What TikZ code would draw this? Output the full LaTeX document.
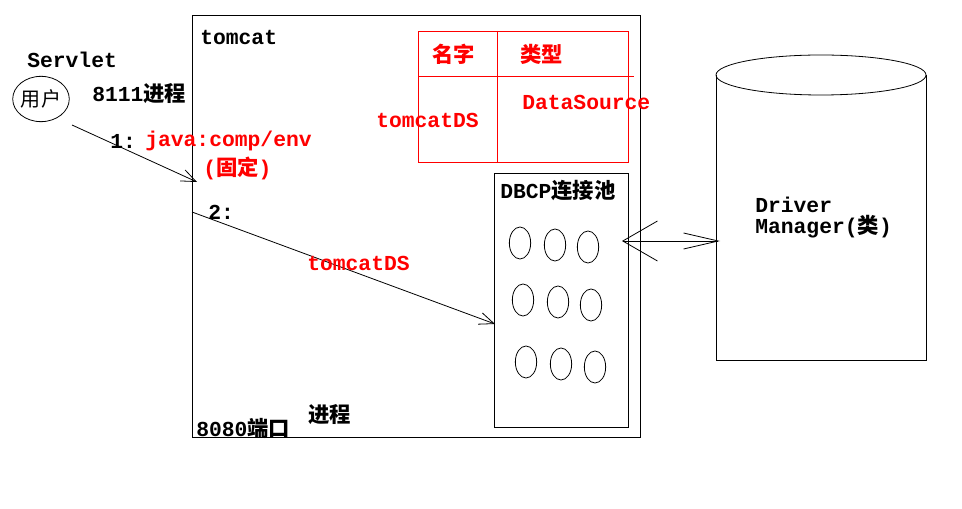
\documentclass[tikz,border=0pt]{standalone}
\usepackage{fontspec}
\setmainfont{Liberation Mono}
\newfontfamily\cjk{Noto Sans CJK SC}
\usetikzlibrary{arrows.meta,shapes.geometric}
\begin{document}
\begin{tikzpicture}[x=0.75pt,y=-0.75pt,
  txt/.style={anchor=west,inner sep=0pt,font=\fontsize{16}{16}\selectfont\bfseries},
  rtxt/.style={txt,text=red},
  ln/.style={line width=0.6pt},
  arr/.style={ln,-{Straight Barb[length=11pt,width=9pt,line width=0.6pt]}},
  pool/.style={draw,ln,ellipse,minimum width=16pt,minimum height=24pt,inner sep=0pt}]
\useasboundingbox (0,0) rectangle (962,509);
% tomcat box
\node[draw,ln,minimum width=336pt,minimum height=316.5pt,inner sep=0pt,anchor=north west] (tc) at (192,15) {};
\node[txt] (tct) at (200,38) {tomcat};
% red table
\draw[draw=red,ln] (418,31) rectangle (628,162);
\draw[draw=red,ln] (418,76) -- (634,76);
\draw[draw=red,ln] (497,31) -- (497,162);
\node[rtxt] (n1) at (432,54) {{\cjk 名字}};
\node[rtxt] (n2) at (520,54) {{\cjk 类型}};
\node[rtxt] (ds) at (522,102) {DataSource};
\node[rtxt] (td) at (376,120) {tomcatDS};
% user
\node[txt] (sv) at (27,60) {Servlet};
\node[draw,ln,ellipse,minimum width=41pt,minimum height=34pt,inner sep=0pt] (user) at (41,99) {\cjk\fontsize{15}{15}\selectfont 用户};
\node[txt] (p1) at (92,94) {8111{\cjk 进程}};
% arrow 1
\coordinate (a1) at (72,125);
\coordinate (b1) at (197,182);
\draw[arr] (a1) -- (b1);
\node[txt] (l1) at (110,141) {1:};
\node[rtxt] (jc) at (145,141) {java:comp/env};
\node[rtxt] (gd) at (203,168) {({\cjk 固定})};
% arrow 2
\coordinate (a2) at (192,212);
\coordinate (b2) at (495,324);
\draw[arr] (a2) -- (b2);
\node[txt] (l2) at (208,212) {2:};
\node[rtxt] (td2) at (307,263) {tomcatDS};
% DBCP
\draw[ln] (494,173) rectangle (628,427);
\node[txt] (db) at (500,191) {DBCP{\cjk 连接池}};
\foreach \x/\y [count=\i] in {520/243,555/245,588/247,523/300,558/302,591/305,526/362,561/364,595/367}
  \node[pool] (e\i) at (\x,\y) {};
% double arrow
\coordinate (c1) at (622,241);
\coordinate (c2) at (720,241);
\draw[ln,{Straight Barb[length=26pt,width=30pt,line width=0.6pt]}-{Straight Barb[length=26pt,width=12pt,line width=0.6pt]}] (c1) -- (c2);
% cylinder
\draw[ln] (716,75) -- (716,360) -- (926,360) -- (926,75);
\draw[ln] (821,75) ellipse (105 and 20);
\node[txt] (dr) at (755,205) {Driver};
\node[txt] (dm) at (755,227) {Manager({\cjk 类})};
% bottom
\node[txt] (port) at (196,428) {8080{\cjk 端口}};
\node[txt] (pr) at (308,415) {\cjk 进程};
\end{tikzpicture}
\end{document}
